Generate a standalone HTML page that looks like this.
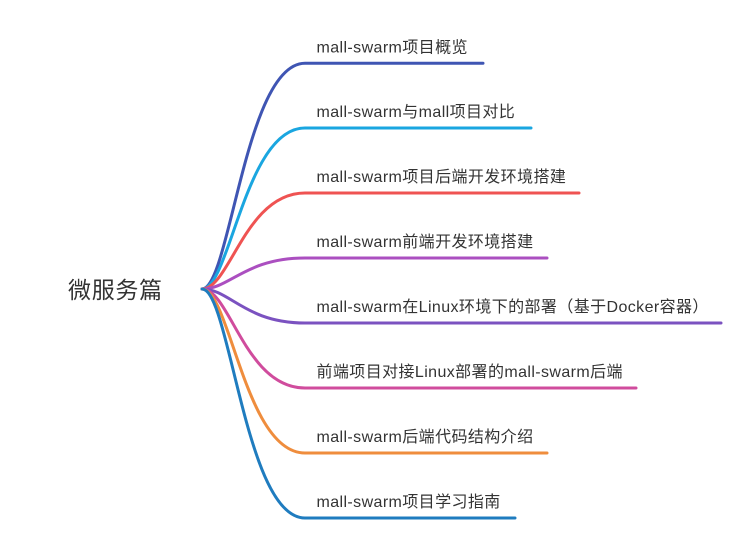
<!DOCTYPE html>
<html>
<head>
<meta charset="utf-8">
<style>
html,body{margin:0;padding:0;background:#fff;}
svg{display:block;}
text{font-family:"Liberation Sans","Noto Sans CJK SC",sans-serif;fill:#333;}
</style>
</head>
<body>
<svg width="751" height="550" viewBox="0 0 751 550" xmlns="http://www.w3.org/2000/svg">
<g fill="none" stroke-width="3" stroke-linecap="round">
<path d="M202,289 C230,289 245,63.3 305,63.3 L483,63.3" stroke="#3f55b3"/>
<path d="M202,289 C230,289 245,128 305,128 L531,128" stroke="#1aa6e0"/>
<path d="M202,289 C230,289 245,193 305,193 L579,193" stroke="#ef5352"/>
<path d="M202,289 C230,289 245,258 305,258 L547,258" stroke="#ab4fc0"/>
<path d="M202,289 C230,289 245,323 305,323 L721,323" stroke="#7b52c0"/>
<path d="M202,289 C230,289 245,388 305,388 L636,388" stroke="#d04c9d"/>
<path d="M202,289 C230,289 245,453 305,453 L547,453" stroke="#ef8d3d"/>
<path d="M202,289 C230,289 245,518 305,518 L515,518" stroke="#1f7cbf"/>
</g>
<text x="68" y="298" font-size="23" letter-spacing="0.7">微服务篇</text>
<g font-size="16" letter-spacing="0.4">
<text x="316.5" y="52.5">mall-swarm项目概览</text>
<text x="316.5" y="117">mall-swarm与mall项目对比</text>
<text x="316.5" y="182">mall-swarm项目后端开发环境搭建</text>
<text x="316.5" y="247">mall-swarm前端开发环境搭建</text>
<text x="316.5" y="312">mall-swarm在Linux环境下的部署（基于Docker容器）</text>
<text x="316.5" y="377">前端项目对接Linux部署的mall-swarm后端</text>
<text x="316.5" y="442">mall-swarm后端代码结构介绍</text>
<text x="316.5" y="507">mall-swarm项目学习指南</text>
</g>
</svg>
</body>
</html>
